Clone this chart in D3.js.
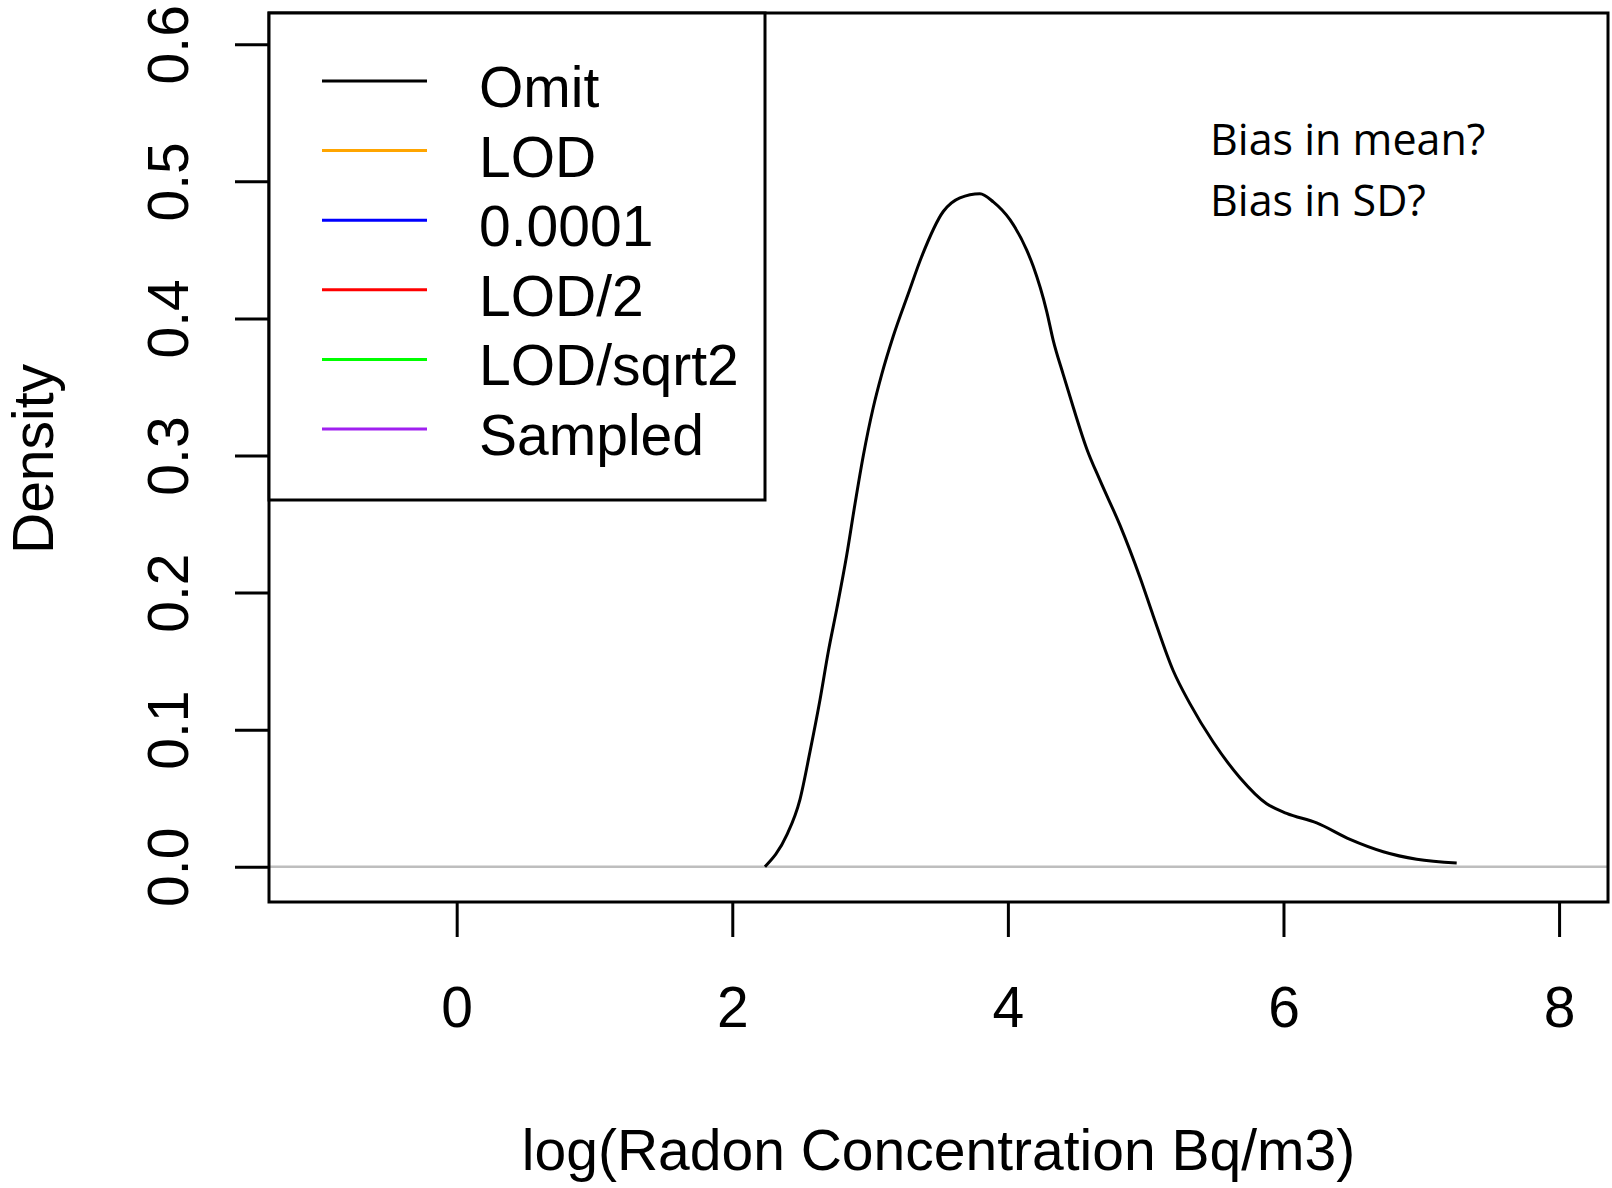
<!DOCTYPE html>
<html>
<head>
<meta charset="utf-8">
<script src="https://cdn.jsdelivr.net/npm/d3@7"></script>
<style>
  body { margin: 0; background: #fff; }
  .axis text { font-family: "Liberation Sans", Arial, sans-serif; font-size: 57px; fill: #000; }
  .lbl { font-family: "Liberation Sans", Arial, sans-serif; font-size: 57px; fill: #000; }
  .note { font-family: "Open Sans", sans-serif; font-size: 43px; fill: #000; }
</style>
</head>
<body>
<script>
// density curve for "Omit" (log radon)
var omitX = [2.237, 2.395, 2.491, 2.564, 2.637, 2.697, 2.758, 2.830, 2.891, 2.951, 3.023, 3.084,
  3.168, 3.277, 3.374, 3.531, 3.652, 3.797, 3.894, 4.015, 4.136, 4.184, 4.282, 4.329, 4.402,
  4.475, 4.572, 4.668, 4.814, 4.959, 5.055, 5.200, 5.321, 5.490, 5.684, 5.878, 6.023, 6.241,
  6.483, 6.724, 6.967, 7.257];
var omitY = [0.000, 0.023, 0.049, 0.084, 0.122, 0.157, 0.188, 0.227, 0.265, 0.300, 0.335, 0.359,
  0.387, 0.418, 0.445, 0.478, 0.488, 0.491, 0.485, 0.472, 0.450, 0.438, 0.405, 0.384, 0.359,
  0.335, 0.305, 0.282, 0.249, 0.211, 0.183, 0.143, 0.119, 0.091, 0.065, 0.046, 0.039, 0.032,
  0.020, 0.011, 0.0055, 0.0027];

var legendNames = ["Omit", "LOD", "0.0001", "LOD/2", "LOD/sqrt2", "Sampled"];
var legendColors = ["#000000", "#FFA500", "#0000FF", "#FF0000", "#00FF00", "#A020F0"];
var xTicks = [0, 2, 4, 6, 8];
var yTicks = [0.0, 0.1, 0.2, 0.3, 0.4, 0.5, 0.6];
var notes = ["Bias in mean?", "Bias in SD?"];

var width = 1612, height = 1188;
var margin = { left: 269, top: 13, right: 4, bottom: 286 };
var plotW = width - margin.left - margin.right;
var plotH = height - margin.top - margin.bottom;

var svg = d3.select("body").append("svg")
  .attr("width", width)
  .attr("height", height);

var x = d3.scaleLinear().domain([-1.362, 8.355]).range([margin.left, margin.left + plotW]);
var y = d3.scaleLinear().domain([-0.0257, 0.6228]).range([margin.top + plotH, margin.top]);

// zero line
svg.append("line")
  .attr("x1", margin.left).attr("x2", margin.left + plotW)
  .attr("y1", y(0)).attr("y2", y(0))
  .attr("stroke", "#bebebe").attr("stroke-width", 2.5);

// density curve
var pts = omitX.map((d, i) => [d, omitY[i]]);
svg.append("path")
  .datum(pts)
  .attr("fill", "none")
  .attr("stroke", "#000")
  .attr("stroke-width", 3)
  .attr("d", d3.line().x(d => x(d[0])).y(d => y(d[1])).curve(d3.curveMonotoneX));

// x axis
var xAxis = svg.append("g")
  .attr("class", "axis")
  .attr("transform", "translate(0," + (margin.top + plotH) + ")")
  .call(d3.axisBottom(x).tickValues(xTicks).tickSize(35).tickPadding(0).tickFormat(d3.format("d")));
xAxis.select(".domain").remove();
xAxis.selectAll(".tick line").attr("stroke", "#000").attr("stroke-width", 3);
xAxis.selectAll(".tick text").attr("dy", null).attr("y", 125);

// y axis
var yAxis = svg.append("g")
  .attr("class", "axis")
  .attr("transform", "translate(" + margin.left + ",0)")
  .call(d3.axisLeft(y).tickValues(yTicks).tickSize(34).tickFormat(d3.format(".1f")));
yAxis.select(".domain").remove();
yAxis.selectAll(".tick line").attr("stroke", "#000").attr("stroke-width", 3);
yAxis.selectAll(".tick text")
  .attr("x", null).attr("dy", null)
  .attr("text-anchor", "middle")
  .attr("transform", "translate(-81,0) rotate(-90)");

// frame
svg.append("rect")
  .attr("x", margin.left).attr("y", margin.top)
  .attr("width", plotW).attr("height", plotH)
  .attr("fill", "none").attr("stroke", "#000").attr("stroke-width", 3);

// axis titles
svg.append("text")
  .attr("class", "lbl")
  .attr("x", margin.left + plotW / 2).attr("y", 1170)
  .attr("text-anchor", "middle")
  .text("log(Radon Concentration Bq/m3)");

svg.append("text")
  .attr("class", "lbl")
  .attr("text-anchor", "middle")
  .attr("transform", "translate(53,459) rotate(-90)")
  .text("Density");

// legend
var legend = svg.append("g");
legend.append("rect")
  .attr("x", margin.left).attr("y", margin.top)
  .attr("width", 496).attr("height", 487)
  .attr("fill", "#fff").attr("stroke", "#000").attr("stroke-width", 3);

var items = legend.selectAll("g.item")
  .data(legendNames)
  .join("g")
  .attr("class", "item")
  .attr("transform", (d, i) => "translate(0," + (81 + i * 69.6) + ")");

items.append("line")
  .attr("x1", 322).attr("x2", 427)
  .attr("stroke", (d, i) => legendColors[i])
  .attr("stroke-width", 3);

items.append("text")
  .attr("class", "lbl")
  .attr("x", 479).attr("y", 26)
  .text(d => d);

// annotation
svg.selectAll("text.note")
  .data(notes)
  .join("text")
  .attr("class", "note")
  .attr("x", 1210)
  .attr("y", (d, i) => 155 + i * 61)
  .text(d => d);
</script>
</body>
</html>
